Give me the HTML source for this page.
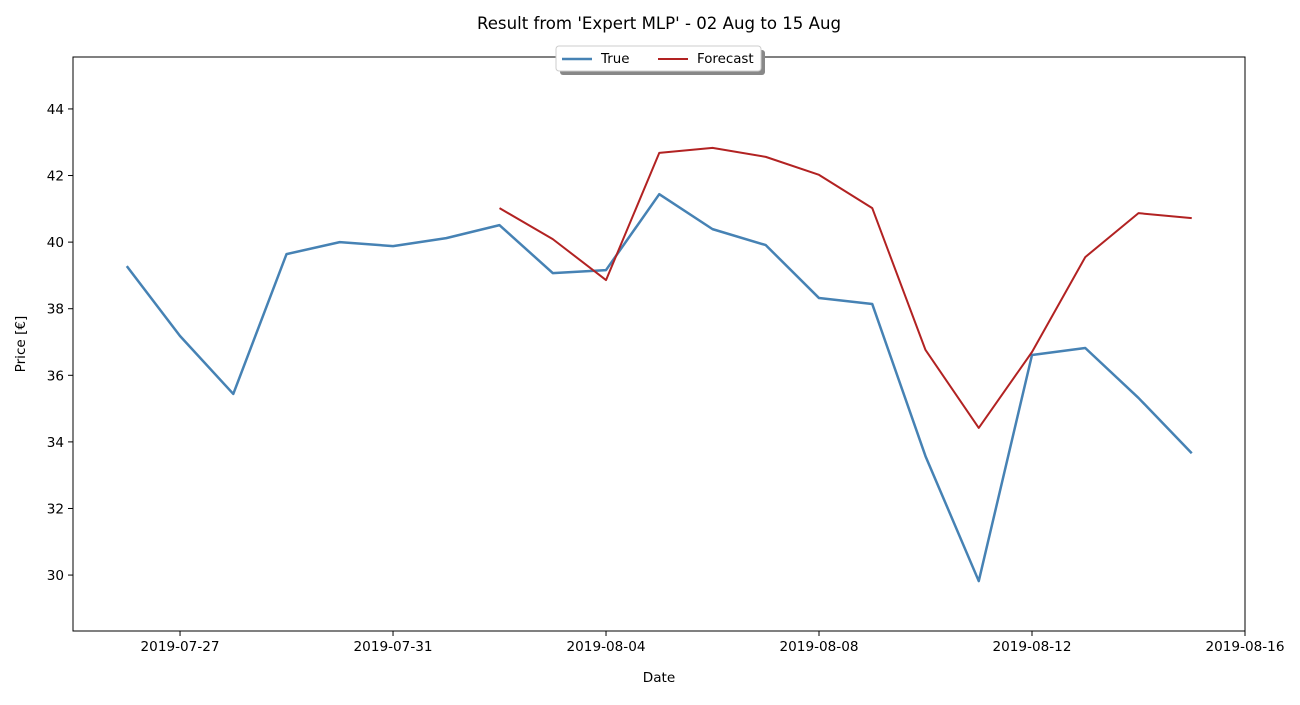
<!DOCTYPE html>
<html><head><meta charset="utf-8"><style>
body{margin:0;background:#fff;font-family:"Liberation Sans","DejaVu Sans",sans-serif;}
svg text{font-family:"DejaVu Sans","Liberation Sans",sans-serif;}
</style></head><body>
<svg id="chart" width="1300" height="700"></svg>
<script>
const trueDates=["2019-07-26","2019-07-27","2019-07-28","2019-07-29","2019-07-30","2019-07-31","2019-08-01","2019-08-02","2019-08-03","2019-08-04","2019-08-05","2019-08-06","2019-08-07","2019-08-08","2019-08-09","2019-08-10","2019-08-11","2019-08-12","2019-08-13","2019-08-14","2019-08-15"];
const trueValues=[39.28,37.18,35.44,39.64,40.00,39.88,40.12,40.51,39.07,39.16,41.44,40.39,39.91,38.32,38.14,33.57,29.82,36.61,36.82,35.32,33.66];
const forecastDates=["2019-08-02","2019-08-03","2019-08-04","2019-08-05","2019-08-06","2019-08-07","2019-08-08","2019-08-09","2019-08-10","2019-08-11","2019-08-12","2019-08-13","2019-08-14","2019-08-15"];
const forecastValues=[41.02,40.09,38.86,42.68,42.83,42.56,42.02,41.02,36.76,34.42,36.70,39.55,40.87,40.72];
const xTicks=["2019-07-27","2019-07-31","2019-08-04","2019-08-08","2019-08-12","2019-08-16"];
const yTicks=[30,32,34,36,38,40,42,44];

const NS="http://www.w3.org/2000/svg";
const svg=document.getElementById('chart');
const L=73,R=1245,T=57,B=631;
const d0=Date.parse("2019-07-26");
const day=s=>(Date.parse(s)-d0)/86400000;
const xMin=-1.01,xMax=21.0,yMin=28.32,yMax=45.56;
const X=s=>L+(day(s)-xMin)/(xMax-xMin)*(R-L);
const Y=v=>B-(v-yMin)/(yMax-yMin)*(B-T);
function el(tag,attrs,parent){const e=document.createElementNS(NS,tag);for(const k in attrs)e.setAttribute(k,attrs[k]);(parent||svg).appendChild(e);return e;}

let t=el('text',{x:659,y:29,'text-anchor':'middle','font-size':16.6,fill:'#000'});t.textContent="Result from 'Expert MLP' - 02 Aug to 15 Aug";



xTicks.forEach(s=>{const x=X(s);
 const l=el('line',{x1:x,x2:x,y1:B,y2:B+5,stroke:'#000'});
 
 
 const tx=el('text',{x:x,y:B+20,'text-anchor':'middle','font-size':13.6});tx.textContent=s;
 
 });
yTicks.forEach(v=>{const y=Y(v);
 const l=el('line',{x1:L-5,x2:L,y1:y,y2:y,stroke:'#000'});
 
 
 const tx=el('text',{x:L-9,y:y+5,'text-anchor':'end','font-size':13.6});tx.textContent=v;
 
 });

let xt=el('text',{x:659,y:682,'text-anchor':'middle','font-size':13.6});xt.textContent="Date";


let yt=el('text',{x:25,y:344,'text-anchor':'middle','font-size':13.6,transform:'rotate(-90 25 344)'});yt.textContent="Price [€]";



function line(dates,vals,color,w,name){
 const p=el('polyline',{points:dates.map((d,i)=>X(d)+','+Y(vals[i])).join(' '),fill:'none',stroke:color,'stroke-width':w,'stroke-linejoin':'round'});
 
 }
line(trueDates,trueValues,'#4682b4',2.5,'true-line');
line(forecastDates,forecastValues,'#b22222',2,'forecast-line');

const frame=el('rect',{x:L,y:T,width:R-L,height:B-T,fill:'none',stroke:'#000','stroke-width':1});



const lg=el('g',{});


el('rect',{x:560,y:50,width:205,height:25,rx:3,fill:'#888'},lg);
el('rect',{x:556,y:46,width:205,height:25,rx:3,fill:'#fff',stroke:'#ccc'},lg);
const e1=el('g',{},lg);


el('line',{x1:562,x2:592,y1:59,y2:59,stroke:'#4682b4','stroke-width':2.5},e1);
let a=el('text',{x:601,y:63,'font-size':13.4},e1);a.textContent='True';
const e2=el('g',{},lg);


el('line',{x1:658,x2:688,y1:59,y2:59,stroke:'#b22222','stroke-width':2},e2);
let b=el('text',{x:697,y:63,'font-size':13.4},e2);b.textContent='Forecast';
</script>
</body></html>
